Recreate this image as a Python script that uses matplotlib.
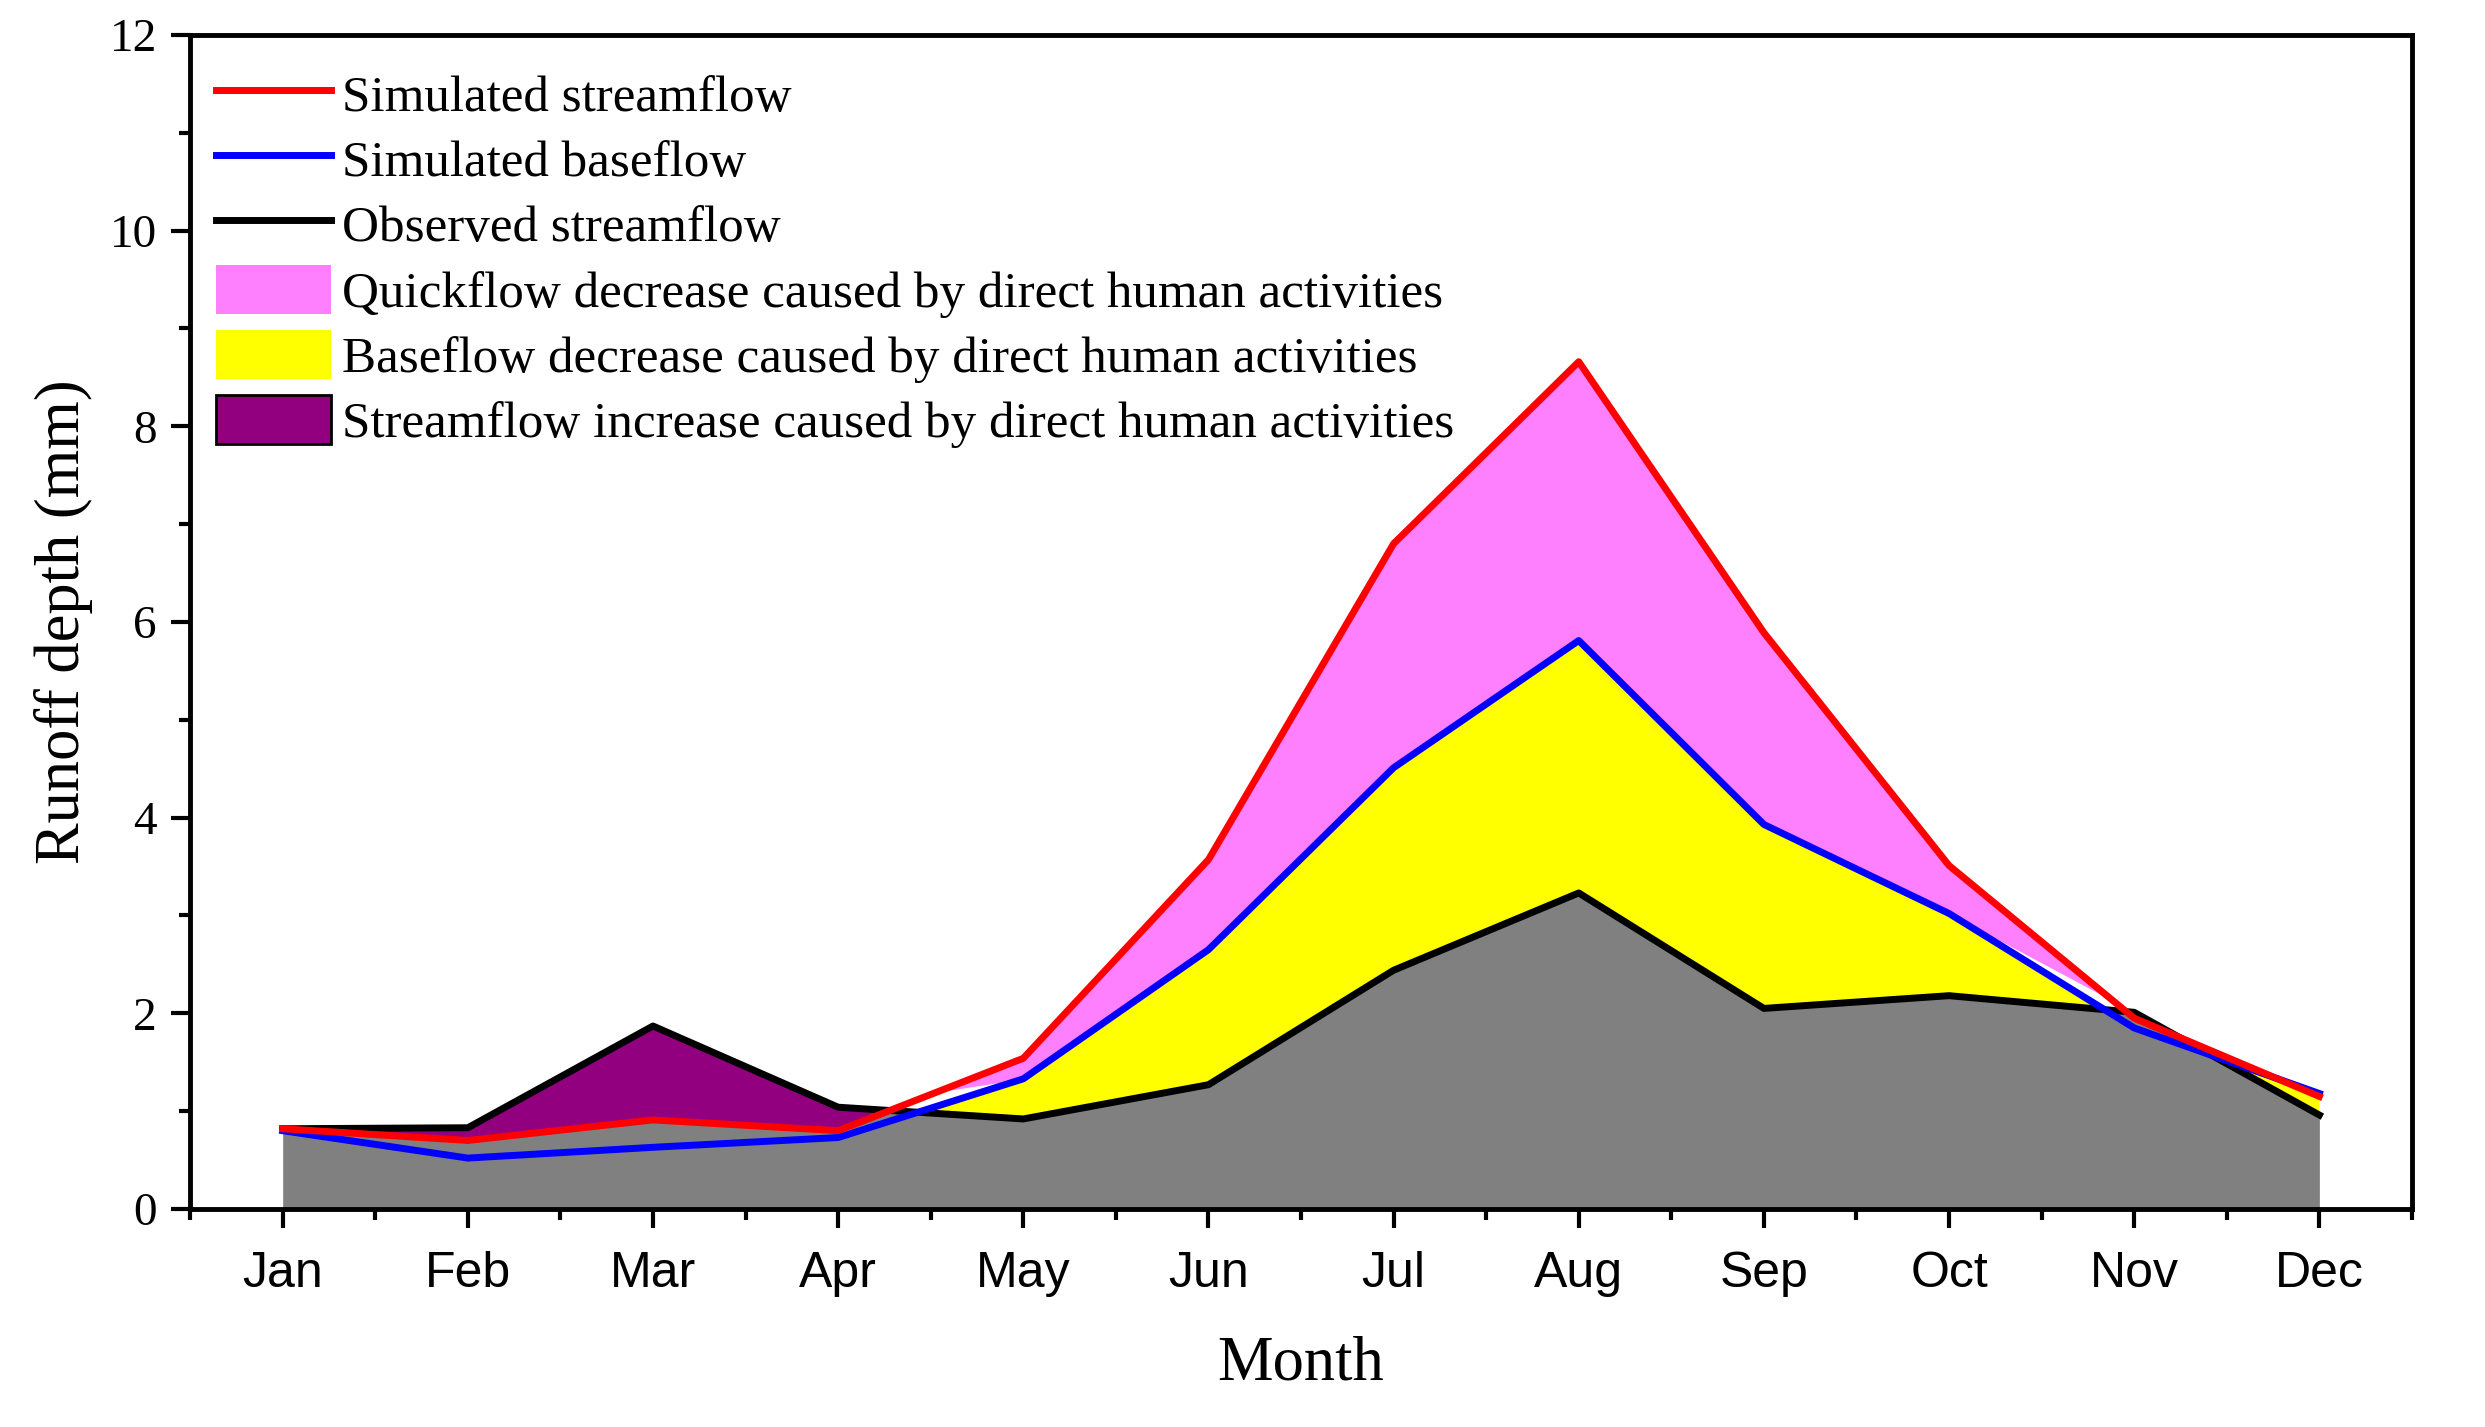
import numpy as np
import matplotlib.pyplot as plt
from matplotlib.lines import Line2D
from matplotlib.patches import Patch

months = ["Jan", "Feb", "Mar", "Apr", "May", "Jun", "Jul", "Aug", "Sep", "Oct", "Nov", "Dec"]
sim_stream = [0.82, 0.70, 0.91, 0.80, 1.54, 3.57, 6.80, 8.66, 5.89, 3.51, 1.95, 1.15]
sim_base = [0.80, 0.52, 0.63, 0.73, 1.33, 2.65, 4.51, 5.81, 3.93, 3.02, 1.85, 1.18]
obs_stream = [0.82, 0.83, 1.87, 1.04, 0.92, 1.27, 2.44, 3.23, 2.05, 2.18, 2.01, 0.96]

x = np.arange(1, 13)
sim = np.array(sim_stream)
base = np.array(sim_base)
obs = np.array(obs_stream)

serif = "Liberation Serif"
sans = "Liberation Sans"

fig = plt.figure(figsize=(24.85, 14.27), dpi=100)
ax = fig.add_axes([0.0765, 0.1528, 0.8941, 0.8227])

# filled areas
ax.fill_between(x, 0, obs, color="#808080", lw=0)
ax.fill_between(x, obs, base, where=base > obs, interpolate=True, color="#FFFF00", lw=0)
top_low = np.maximum(obs, base)
ax.fill_between(x, top_low, sim, where=sim > top_low, interpolate=True, color="#FF80FF", lw=0)
ax.fill_between(x, sim, obs, where=obs > sim, interpolate=True, color="#93007F", lw=0)

# lines
ax.plot(x, obs, color="black", lw=5)
ax.plot(x, base, color="#0000FF", lw=5)
ax.plot(x, sim, color="#FF0000", lw=5)

ax.set_xlim(0.5, 12.5)
ax.set_ylim(0, 12)
ax.set_xticks(x)
ax.set_xticklabels(months, fontfamily=sans, fontsize=36)
ax.set_xticks(np.arange(0.5, 13, 1), minor=True)
ax.set_yticks(np.arange(0, 13, 2))
ax.set_yticks(np.arange(1, 12, 2), minor=True)
for lab in ax.get_yticklabels():
    lab.set_fontfamily(serif)
    lab.set_fontsize(34)
ax.tick_params(axis="both", which="major", direction="out", length=14, width=3, pad=10)
ax.tick_params(axis="x", which="major", pad=16)
ax.tick_params(axis="both", which="minor", direction="out", length=8, width=3)
for s in ax.spines.values():
    s.set_linewidth(3.5)

ax.set_xlabel("Month", fontfamily=serif, fontsize=45, labelpad=28)
ax.set_ylabel("Runoff depth (mm)", fontfamily=serif, fontsize=45, labelpad=12)

handles = [
    Line2D([], [], color="#FF0000", lw=5),
    Line2D([], [], color="#0000FF", lw=5),
    Line2D([], [], color="black", lw=5),
    Patch(facecolor="#FF80FF", edgecolor="none"),
    Patch(facecolor="#FFFF00", edgecolor="none"),
    Patch(facecolor="#93007F", edgecolor="black", lw=2),
]
labels = [
    "Simulated streamflow",
    "Simulated baseflow",
    "Observed streamflow",
    "Quickflow decrease caused by direct human activities",
    "Baseflow decrease caused by direct human activities",
    "Streamflow increase caused by direct human activities",
]
ax.legend(handles, labels, loc="upper left", frameon=False,
          prop={"family": serif, "size": 36.8}, handlelength=2.25, handleheight=1.1,
          handletextpad=0.2, labelspacing=0.24, borderaxespad=0.2,
          bbox_to_anchor=(-0.002, 0.997))

fig.savefig("out.png", dpi=100)
